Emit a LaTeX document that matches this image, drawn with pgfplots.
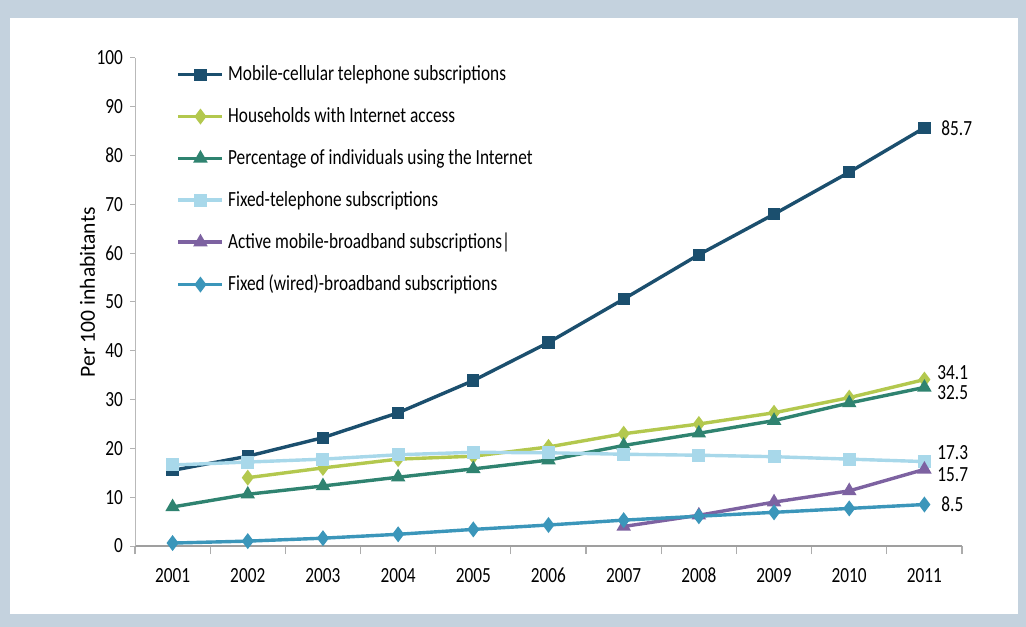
\documentclass[border=0pt]{standalone}
\usepackage{fontspec}
\setmainfont{Carlito}[FakeStretch=0.8]
\newfontfamily\ylabfont{Carlito}
\usepackage{pgfplots}
\pgfplotsset{compat=1.18}

\definecolor{frame}{HTML}{C4D2DE}
\definecolor{mobile}{HTML}{1B4F6E}
\definecolor{house}{HTML}{B3C84E}
\definecolor{indiv}{HTML}{2F8370}
\definecolor{fixtel}{HTML}{A8D8EA}
\definecolor{mobbb}{HTML}{7D62A1}
\definecolor{fixbb}{HTML}{3B96BA}

\newcommand\chartfont{\fontsize{10.8bp}{13bp}\selectfont}

\begin{document}
\begin{tikzpicture}
\fill[frame] (0,0) rectangle (513bp,313.5bp);
\fill[white] (5bp,6.5bp) rectangle (509bp,304.5bp);
\begin{axis}[
    at={(67.5bp,40.5bp)}, anchor=south west,
    scale only axis, width=413.5bp, height=244bp,
    xmin=2000.5, xmax=2011.5, ymin=0, ymax=100,
    clip=false,
    axis lines*=left,
    x axis line style={draw=gray!75, line width=1.3bp},
    y axis line style={draw=gray!55, line width=0.5bp},
    xtick={2001,...,2011},
    minor xtick={2000.5,2001.5,...,2011.5},
    major x tick style={draw=none},
    minor x tick style={draw=gray!65, line width=0.6bp},
    minor tick length=4bp,
    ytick={0,10,...,100},
    y tick style={draw=gray!60, line width=0.5bp},
    major tick length=2.5bp,
    tick align=outside,
    tick label style={font=\chartfont, /pgf/number format/assume math mode=true},
    x tick label style={/pgf/number format/1000 sep={}, yshift=-5bp},
    ylabel={\ylabfont\fontsize{10.8bp}{12bp}\selectfont Per 100 inhabitants},
    ylabel style={at={(ticklabel cs:0.52)}, yshift=-6bp},
    legend style={draw=none, fill=none, at={(0.05,0.993)}, anchor=north west,
        font=\chartfont, row sep=7.9bp, inner sep=0pt},
    legend cell align=left,
    legend image code/.code={\draw[mark repeat=2,mark phase=2]
        plot coordinates {(0bp,0bp) (11bp,0bp) (22bp,0bp)};},
    every axis plot/.append style={line width=1.7bp},
]
\addplot[mobile, mark=square*, mark size=2.2bp] coordinates {
  (2001,15.5)(2002,18.4)(2003,22.2)(2004,27.3)(2005,33.9)(2006,41.7)
  (2007,50.6)(2008,59.7)(2009,68.0)(2010,76.6)(2011,85.7)};
\addlegendentry{Mobile-cellular telephone subscriptions}
\addplot[house, mark=diamond*, mark size=2.6bp] coordinates {
  (2002,14.0)(2003,16.0)(2004,17.8)(2005,18.4)(2006,20.3)
  (2007,23.0)(2008,25.0)(2009,27.3)(2010,30.4)(2011,34.1)};
\addlegendentry{Households with Internet access}
\addplot[indiv, mark=triangle*, mark size=2.5bp] coordinates {
  (2001,8.0)(2002,10.6)(2003,12.3)(2004,14.1)(2005,15.8)(2006,17.6)
  (2007,20.6)(2008,23.1)(2009,25.7)(2010,29.3)(2011,32.5)};
\addlegendentry{Percentage of individuals using the Internet}
\addplot[fixtel, mark=square*, mark size=2.4bp] coordinates {
  (2001,16.6)(2002,17.2)(2003,17.8)(2004,18.7)(2005,19.2)(2006,19.1)
  (2007,18.8)(2008,18.6)(2009,18.3)(2010,17.8)(2011,17.3)};
\addlegendentry{Fixed-telephone subscriptions}
\addplot[mobbb, mark=triangle*, mark size=2.5bp] coordinates {
  (2007,4.0)(2008,6.3)(2009,9.0)(2010,11.3)(2011,15.7)};
\addlegendentry{Active mobile-broadband subscriptions|}
\addplot[fixbb, mark=diamond*, mark size=2.6bp] coordinates {
  (2001,0.6)(2002,1.0)(2003,1.6)(2004,2.4)(2005,3.4)(2006,4.3)
  (2007,5.3)(2008,6.1)(2009,6.9)(2010,7.7)(2011,8.5)};
\addlegendentry{Fixed (wired)-broadband subscriptions}
\node[anchor=west, font=\chartfont, xshift=5bp] at (axis cs:2011,85.7) {85.7};
\node[anchor=west, font=\chartfont, xshift=3bp, yshift=3.5bp] at (axis cs:2011,34.1) {34.1};
\node[anchor=west, font=\chartfont, xshift=3bp, yshift=-2.5bp] at (axis cs:2011,32.5) {32.5};
\node[anchor=west, font=\chartfont, xshift=3bp, yshift=4.5bp] at (axis cs:2011,17.3) {17.3};
\node[anchor=west, font=\chartfont, xshift=3bp, yshift=-2.5bp] at (axis cs:2011,15.7) {15.7};
\node[anchor=west, font=\chartfont, xshift=5bp] at (axis cs:2011,8.5) {8.5};
\end{axis}
\end{tikzpicture}
\end{document}
